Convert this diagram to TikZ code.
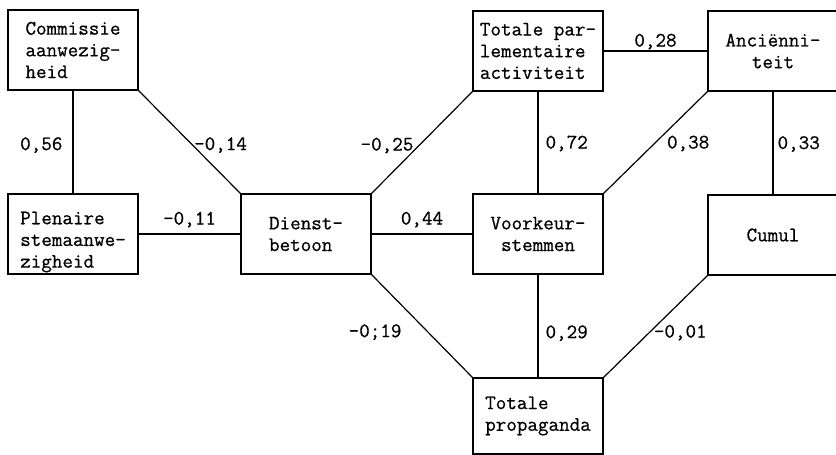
\documentclass[tikz,border=0pt]{standalone}
\usepackage{fontspec}
\usepackage{tikz}
\usetikzlibrary{positioning}
\newfontfamily\typefont{Latin Modern Mono}[FakeBold=0.7]
\newcommand{\typew}{\fontsize{20.5pt}{21.7pt}\selectfont\typefont}
\tikzstyle{box}=[draw,rectangle,minimum width=130pt,minimum height=80pt,inner sep=0pt,font=\typew]
\tikzstyle{coef}=[font=\typew,inner sep=1pt]

\begin{document}
\begin{tikzpicture}[very thick,x=1pt,y=-1pt]
\useasboundingbox (0,0) rectangle (836,455);

\node [box,align=left] (comm) at (73,50) {Commissie\\aanwezig-\\heid};
\node [box,align=left,text height=72pt] (plen) at (73,234) {Plenaire\\stemaanwe-\\zigheid};
\node [box,align=left] (dienst) at (306,234) {Dienst-\\betoon};
\node [box,align=left] (tpa) at (538,51) {Totale par-\\lementaire\\activiteit};
\node [box,align=center] (anc) at (773,51) {Anciënni-\\teit};
\node [box,align=center] (voork) at (538,234) {Voorkeur-\\stemmen};
\node [box] (cumul) at (773,235) {Cumul};
\node [box,align=left,minimum height=76pt] (prop) at (538,416) {Totale\\propaganda};

\draw (comm.south) -- node[coef,left=9pt,pos=0.53] (c1) {0,56} (plen.north);
\draw (comm.south east) -- node[coef,anchor=west,pos=0.53] (c2) {-0,14} (dienst.north west);
\draw (plen.east) -- node[coef,above=5pt] (c3) {-0,11} (dienst.west);
\draw (dienst.north east) -- node[coef,anchor=east,pos=0.47,xshift=-4pt] (c4) {-0,25} (tpa.south west);
\draw (dienst.east) -- node[coef,above=5pt] (c5) {0,44} (voork.west);
\draw (dienst.south east) -- node[coef,anchor=east,pos=0.56,xshift=-25pt] (c6) {-0;19} (prop.north west);
\draw (tpa.south) -- node[coef,right=6pt,pos=0.51] (c7) {0,72} (voork.north);
\draw (tpa.east) -- node[coef,above=0pt] (c8) {0,28} (anc.west);
\draw (anc.south west) -- node[coef,anchor=west,pos=0.51,xshift=11pt] (c9) {0,38} (voork.north east);
\draw (anc.south) -- node[coef,right=3pt,pos=0.51] (c10) {0,33} (cumul.north);
\draw (voork.south) -- node[coef,right=6pt,pos=0.57] (c11) {0,29} (prop.north);
\draw (cumul.south west) -- node[coef,anchor=west,pos=0.56,xshift=3pt] (c12) {-0,01} (prop.north east);

\end{tikzpicture}
\end{document}
